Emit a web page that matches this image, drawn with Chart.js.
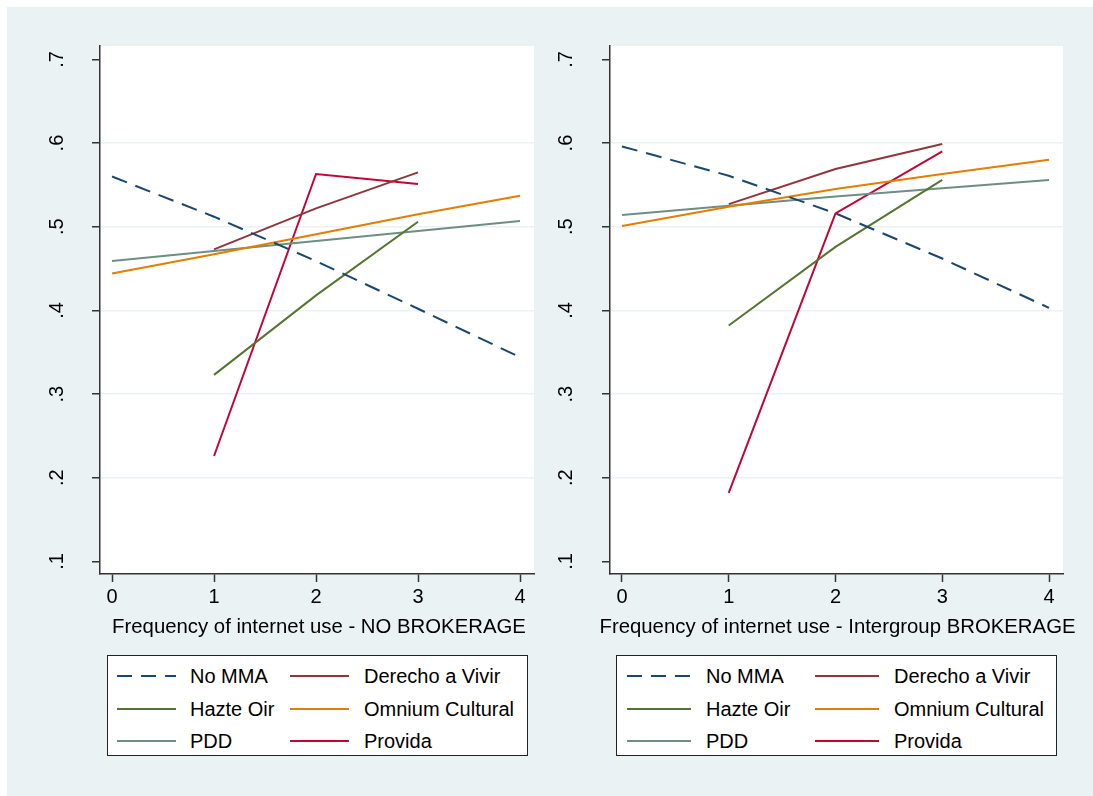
<!DOCTYPE html>
<html>
<head>
<meta charset="utf-8">
<script src="https://cdn.jsdelivr.net/npm/chart.js@4"></script>
<style>
  html, body { margin: 0; padding: 0; background: #ffffff; width: 100%; height: 100%; overflow: hidden; font-family: "Liberation Sans", Arial, sans-serif; }
  #bg { position: fixed; left: 7px; top: 7px; right: 0; bottom: 0; min-width: 1086px; min-height: 789px; background: #EAF2F3; }
  .cv { position: absolute; top: 7px; }
  .xtitle { position: absolute; top: 625.5px; transform: translate(-50%, -50%); font-size: 20.35px; line-height: 1; color: #000; white-space: nowrap; }
  .legend { position: absolute; top: 655px; height: 101px; background: #ffffff; border: 1.5px solid #222; box-sizing: border-box; }
  .item { position: absolute; transform: translateY(-50%); font-size: 20px; line-height: 1; color: #000; white-space: nowrap; }
  .sw { position: absolute; }
</style>
</head>
<body>
<div id="bg"></div>
<div class="cv" style="left:7px;width:540px;height:640px;"><canvas id="c1" width="540" height="640"></canvas></div>
<div class="cv" style="left:547px;width:546px;height:640px;"><canvas id="c2" width="546" height="640"></canvas></div>
<div class="xtitle" id="t1" style="left:319px;"></div>
<div class="xtitle" id="t2" style="left:837.5px;"></div>
<div class="legend" id="lg1" style="left:107px;width:421px;"></div>
<div class="legend" id="lg2" style="left:616px;width:441px;"></div>
<script>
// ---- data ----
const xValues = [0, 1, 2, 3, 4];
const seriesNames = ["No MMA", "Derecho a Vivir", "Hazte Oir", "Omnium Cultural", "PDD", "Provida"];
const seriesColors = ["#1A476F", "#90353B", "#55752F", "#E37E00", "#6E8E84", "#C10534"];
const yTicks = [0.1, 0.2, 0.3, 0.4, 0.5, 0.6, 0.7];
const xTicks = [0, 1, 2, 3, 4];

// Panel 1: NO BROKERAGE
const noMMA_L    = [0.560, 0.512, 0.459, 0.402, 0.344];
const derecho_L  = [null, 0.473, 0.522, 0.565, null];
const hazte_L    = [null, 0.323, 0.418, 0.506, null];
const omnium_L   = [0.444, 0.467, 0.491, 0.515, 0.537];
const pdd_L      = [0.459, 0.471, 0.483, 0.495, 0.507];
const provida_L  = [null, 0.226, 0.563, 0.551, null];

// Panel 2: Intergroup BROKERAGE
const noMMA_R    = [0.596, 0.561, 0.516, 0.462, 0.403];
const derecho_R  = [null, 0.527, 0.569, 0.599, null];
const hazte_R    = [null, 0.382, 0.476, 0.556, null];
const omnium_R   = [0.501, 0.524, 0.545, 0.563, 0.580];
const pdd_R      = [0.514, 0.525, 0.536, 0.546, 0.556];
const provida_R  = [null, 0.182, 0.516, 0.590, null];

const xTitleL = "Frequency of internet use - NO BROKERAGE";
const xTitleR = "Frequency of internet use - Intergroup BROKERAGE";

// ---- build ----
const FONT = "'Liberation Sans', Arial, sans-serif";
function mkDatasets(arrs) {
  return arrs.map((arr, i) => ({
    label: seriesNames[i],
    data: xValues.map((x, j) => ({x: x, y: arr[j]})).filter(p => p.y !== null),
    borderColor: seriesColors[i],
    backgroundColor: seriesColors[i],
    borderWidth: 2,
    borderDash: i === 0 ? [16, 9] : [],
    pointRadius: 0,
    fill: false,
    tension: 0
  }));
}

const whiteArea = {
  id: 'whiteArea',
  beforeDraw(chart) {
    const {ctx, chartArea: a} = chart;
    ctx.save();
    ctx.fillStyle = '#ffffff';
    ctx.fillRect(a.left, a.top, a.right - a.left, a.bottom - a.top);
    ctx.restore();
  }
};

function mkChart(id, arrs, yWidth, padRight, yPad, xmin, xmax) {
  return new Chart(document.getElementById(id), {
    type: 'line',
    data: { datasets: mkDatasets(arrs) },
    options: {
      responsive: false,
      animation: false,
      devicePixelRatio: 1,
      layout: { padding: { top: 39, right: padRight, bottom: 0, left: 0 } },
      plugins: { legend: { display: false }, tooltip: { enabled: false } },
      scales: {
        x: {
          type: 'linear', min: xmin, max: xmax,
          afterBuildTicks: s => { s.ticks = xTicks.map(v => ({value: v})); },
          afterFit: s => { s.height = 73; },
          grid: { drawOnChartArea: false, tickLength: 8, tickColor: '#333', tickWidth: 1.5 },
          border: { display: true, color: '#333', width: 1.5 },
          ticks: { color: '#000', padding: 3, font: { family: FONT, size: 20 }, maxRotation: 0, callback: v => String(v) },
          title: { display: false }
        },
        y: {
          type: 'linear', min: 0.085, max: 0.716,
          afterBuildTicks: s => { s.ticks = yTicks.map(v => ({value: v})); },
          afterFit: s => { s.width = yWidth; },
          grid: {
            color: c => (c.tick && (Math.abs(c.tick.value - 0.1) < 1e-6 || Math.abs(c.tick.value - 0.7) < 1e-6)) ? 'rgba(0,0,0,0)' : '#EAF2F3',
            lineWidth: 1.5, tickLength: 8, tickColor: '#333', tickWidth: 1.5
          },
          border: { display: true, color: '#333', width: 1.5 },
          ticks: {
            color: '#000', padding: yPad, crossAlign: 'center', minRotation: 90, maxRotation: 90,
            font: { family: FONT, size: 20 },
            callback: v => String(Number(v).toFixed(1)).replace(/^0/, '')
          }
        }
      }
    },
    plugins: [whiteArea]
  });
}

mkChart('c1', [noMMA_L, derecho_L, hazte_L, omnium_L, pdd_L, provida_L], 93, 13, 26, -0.118, 4.137);
mkChart('c2', [noMMA_R, derecho_R, hazte_R, omnium_R, pdd_R, provida_R], 63, 30, 27, -0.112, 4.131);
document.getElementById('t1').textContent = xTitleL;
document.getElementById('t2').textContent = xTitleR;

// ---- legends ----
function mkLegend(elId, lineX1, lineX2, textX1, textX2, boxLeft, lineW) {
  const el = document.getElementById(elId);
  const order = [[0, 1], [2, 3], [4, 5]];
  const rowsY = [675, 707.5, 739.5];
  order.forEach((pair, r) => {
    pair.forEach((si, c) => {
      const lx = (c === 0 ? lineX1 : lineX2) - boxLeft;
      const tx = (c === 0 ? textX1 : textX2) - boxLeft;
      const y = rowsY[r] - 655;
      const sw = document.createElementNS('http://www.w3.org/2000/svg', 'svg');
      sw.setAttribute('width', lineW); sw.setAttribute('height', 6);
      sw.setAttribute('class', 'sw');
      sw.style.left = lx + 'px'; sw.style.top = (y - 3) + 'px';
      const ln = document.createElementNS('http://www.w3.org/2000/svg', 'line');
      ln.setAttribute('x1', 0); ln.setAttribute('x2', lineW); ln.setAttribute('y1', 3); ln.setAttribute('y2', 3);
      ln.setAttribute('stroke', seriesColors[si]); ln.setAttribute('stroke-width', 2);
      if (si === 0) ln.setAttribute('stroke-dasharray', '15 9');
      sw.appendChild(ln);
      el.appendChild(sw);
      const t = document.createElement('div');
      t.className = 'item';
      t.textContent = seriesNames[si];
      t.style.left = tx + 'px'; t.style.top = y + 'px';
      el.appendChild(t);
    });
  });
}
mkLegend('lg1', 116, 289, 189, 363, 107, 59);
mkLegend('lg2', 626, 814, 705, 893, 616, 64);
</script>
</body>
</html>
